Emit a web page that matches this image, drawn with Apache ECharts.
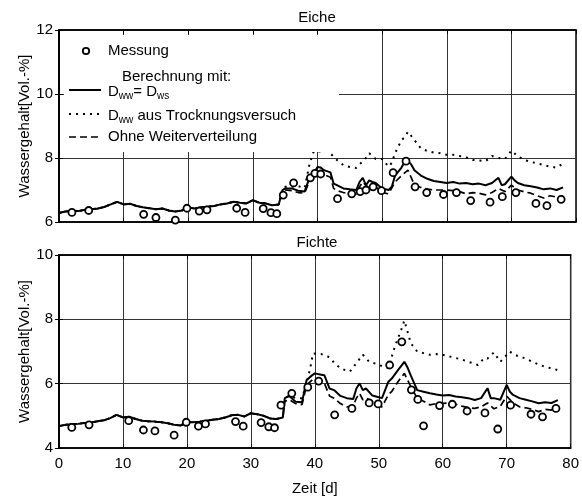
<!DOCTYPE html>
<html><head><meta charset="utf-8">
<script src="https://cdn.jsdelivr.net/npm/echarts@6/dist/echarts.min.js"></script>
<style>html,body{margin:0;padding:0;background:#fff}#c{width:582px;height:497px}</style>
</head><body><div id="c"></div><script>
// ---- data (days, Vol.-%) ----
const xTicks = [0,10,20,30,40,50,60,70,80];
const yTicksEiche = [6,8,10,12];
const yTicksFichte = [4,6,8,10];
const titles = ['Eiche','Fichte'];

// common part (all calculations coincide), days 0..34
const eicheCommon = [[0,6.28],[1,6.33],[2,6.35],[3,6.34],[4,6.38],[5,6.40],[6,6.42],[7,6.47],[8,6.55],[9,6.63],[10,6.55],[11,6.57],[12,6.50],[13,6.46],[14,6.43],[15,6.40],[16,6.42],[17,6.36],[18,6.33],[19,6.36],[20,6.45],[21,6.42],[22,6.46],[23,6.48],[24,6.50],[25,6.55],[26,6.58],[27,6.63],[28,6.60],[29,6.58],[30,6.68],[31,6.60],[32,6.58],[33,6.52],[34,6.55]];
const eicheSolidTail = [[34.6,7.00],[35,7.05],[36,7.05],[37,6.98],[38,6.95],[38.8,7.40],[39.5,7.55],[40,7.72],[40.5,7.70],[41,7.62],[42,7.55],[42.5,7.20],[43,7.15],[44,7.05],[45,7.02],[46,7.00],[46.5,7.25],[47,7.38],[47.5,7.15],[48,7.30],[48.5,7.25],[49,7.22],[50,7.05],[51,7.00],[51.5,7.10],[52,7.45],[53,7.70],[53.7,7.96],[54.5,7.80],[55,7.62],[56,7.45],[57,7.35],[58,7.28],[59,7.25],[60,7.22],[61,7.25],[62,7.20],[63,7.22],[64,7.18],[65,7.20],[66,7.15],[67,7.22],[68,7.38],[68.5,7.15],[69,7.18],[70,7.42],[70.5,7.30],[71,7.22],[72,7.15],[73,7.12],[74,7.08],[75,7.02],[76,7.05],[77,7.00],[78,7.08]];
const eicheDashedTail = [[34.6,6.95],[35,7.00],[36,6.98],[37,6.92],[38,6.90],[38.8,7.30],[39.5,7.45],[40,7.57],[41,7.48],[42,7.40],[42.5,7.05],[43,6.98],[44,6.92],[45,6.90],[46,6.88],[46.5,7.10],[47,7.25],[48,7.05],[49,7.10],[50,6.92],[51,6.88],[52,7.25],[53,7.45],[54,7.62],[55,7.16],[56,7.08],[57,7.03],[58,7.00],[60,7.00],[61,6.98],[62,6.95],[63,6.88],[64,6.92],[65,6.90],[66,6.85],[67,6.92],[68,7.05],[69,6.95],[70,7.15],[71,7.00],[72,6.94],[73,6.90],[74,6.82],[75,6.75],[76,6.82],[77,6.78],[78,6.82]];
const eicheDottedTail = [[34.6,7.05],[35,7.10],[36,7.10],[37,7.12],[38,7.06],[38.7,7.75],[39.3,8.15],[39.5,8.22],[40.5,8.20],[41.5,8.22],[42.5,8.05],[43,7.94],[44,7.78],[45,7.72],[46,7.69],[47,7.90],[47.5,8.00],[48,8.15],[49,7.97],[50,7.97],[51,7.73],[51.5,7.85],[52,8.15],[53,8.56],[53.5,8.65],[54,8.82],[55,8.56],[56,8.30],[57,8.22],[58,8.17],[59,8.15],[60,8.10],[61,8.10],[62,8.06],[63,8.02],[64,7.94],[65,7.92],[66,7.90],[67,8.06],[68,8.00],[69,7.97],[70,8.23],[71,8.05],[72,7.94],[73,7.88],[74,7.83],[75,7.78],[76,7.73],[77,7.70],[78,7.83]];
const eicheMess = [[2,6.30],[4.6,6.36],[13.1,6.24],[15,6.14],[18,6.06],[19.8,6.43],[21.7,6.34],[22.9,6.38],[27.5,6.43],[28.8,6.30],[31.6,6.42],[32.8,6.29],[33.7,6.26],[34.7,6.84],[36.3,7.22],[38.9,7.38],[39.6,7.52],[40.5,7.50],[43.1,6.73],[45.3,6.88],[46.6,6.95],[47.5,7.00],[48.6,7.10],[49.9,6.98],[51.7,7.54],[53.7,7.90],[55.1,7.10],[56.9,6.92],[59.5,6.86],[61.5,6.92],[63.7,6.67],[66.7,6.62],[68.6,6.79],[70.7,6.92],[73.8,6.58],[75.5,6.51],[77.7,6.71]];

const fichteCommon = [[0,4.68],[1,4.72],[2,4.74],[3,4.75],[4,4.78],[5,4.79],[6,4.83],[7,4.86],[8,4.93],[9,5.03],[10,4.95],[11,4.97],[12,4.90],[13,4.85],[14,4.83],[15,4.82],[16,4.80],[17,4.77],[18,4.72],[19,4.70],[20,4.80],[21,4.80],[22,4.82],[23,4.85],[24,4.88],[25,4.90],[26,4.95],[27,5.02],[28,5.03],[29,4.98],[30,5.08],[31,5.05],[32,5.00],[33,4.92],[34,4.90],[35,4.95]];
const fichteSolidTail = [[35.3,5.55],[36,5.62],[37,5.44],[38,5.42],[38.7,6.11],[39.5,6.25],[40,6.32],[41,6.28],[41.5,6.26],[42.3,5.85],[43,5.80],[44,5.62],[45,5.55],[46,5.52],[46.5,5.85],[47,6.01],[47.5,5.80],[48,5.85],[49,5.63],[50,5.58],[50.5,5.55],[51.5,6.06],[52,6.15],[53,6.42],[54,6.68],[54.5,6.50],[55,6.26],[56,5.80],[57,5.75],[58,5.70],[59,5.66],[60,5.63],[61,5.65],[62,5.60],[63,5.58],[64,5.55],[65,5.49],[66,5.55],[67,5.86],[67.5,5.55],[68,5.55],[69,5.50],[70,5.96],[70.5,5.75],[71,5.65],[72,5.55],[73,5.50],[74,5.45],[75,5.39],[76,5.42],[77,5.40],[78,5.49]];
const fichteDashedTail = [[35.3,5.45],[36,5.50],[37,5.38],[38,5.35],[38.7,5.95],[39.5,6.10],[40,6.17],[41,6.10],[41.5,6.01],[42.3,5.62],[43,5.55],[44,5.38],[45,5.28],[46,5.30],[46.5,5.55],[47,5.70],[47.5,5.50],[48,5.55],[49,5.45],[50,5.30],[50.5,5.28],[51.5,5.66],[52,5.75],[53,6.06],[54,6.32],[55,5.91],[56,5.55],[57,5.45],[58,5.34],[59,5.38],[60,5.39],[61,5.40],[62,5.36],[63,5.30],[64,5.25],[65,5.23],[66,5.28],[67,5.40],[68,5.22],[69,5.30],[70,5.61],[71,5.40],[72,5.28],[73,5.25],[74,5.20],[75,5.13],[76,5.20],[77,5.18],[78,5.28]];
const fichteDottedTail = [[35.3,5.55],[36,5.62],[37,5.55],[38,5.55],[38.7,6.00],[39.3,6.50],[39.7,6.94],[41,6.92],[42,6.85],[42.5,6.78],[43,6.65],[44,6.48],[45,6.40],[45.5,6.38],[46.5,6.64],[47.5,6.90],[48.5,6.68],[49.5,6.62],[50,6.58],[51.5,6.48],[52.5,7.15],[53.5,7.67],[54,7.96],[55,7.26],[56,7.00],[57,6.95],[58,6.90],[59,6.92],[60,6.90],[61,6.85],[62,6.80],[63,6.75],[64,6.68],[65,6.62],[65.5,6.58],[66.5,6.80],[67,6.78],[68,6.97],[69,6.68],[70.5,7.00],[71,6.92],[72,6.84],[73,6.78],[74,6.68],[75,6.60],[76,6.52],[77,6.48],[78,6.42]];
const fichteMess = [[2,4.64],[4.7,4.72],[10.9,4.85],[13.2,4.56],[15,4.53],[18,4.40],[19.9,4.80],[21.8,4.68],[22.9,4.75],[27.6,4.82],[28.8,4.68],[31.6,4.79],[32.8,4.66],[33.7,4.63],[34.7,5.33],[36.4,5.70],[38.9,5.89],[40.6,6.08],[43.1,5.03],[45.8,5.23],[48.5,5.40],[49.9,5.37],[51.7,6.58],[53.6,7.30],[55.1,5.81],[56.1,5.51],[57,4.69],[59.5,5.32],[61.5,5.36],[63.8,5.15],[66.6,5.09],[68.6,4.59],[70.6,5.33],[73.8,5.05],[75.6,4.97],[77.7,5.23]];

const FONT = "'Liberation Sans', Arial, sans-serif";
const chart = echarts.init(document.getElementById('c'), null, {renderer:'canvas'});

function xAx(gi, showLabel) {
  return [{
    gridIndex: gi, type:'value', min: xTicks[0], max: xTicks[xTicks.length-1], interval: 10,
    axisLine:{show:true, lineStyle:{color:'#000', width:1.5}},
    axisTick:{show:true, inside:true, length:4, lineStyle:{color:'#000'}},
    axisLabel:{show:showLabel, color:'#000', fontSize:15, fontFamily:FONT, margin:8},
    splitLine:{show:true, lineStyle:{color:'#333', width:1}},
    name: showLabel ? 'Zeit [d]' : '', nameLocation:'middle', nameGap:33, nameMoveOverlap:false,
    nameTextStyle:{color:'#000', fontSize:15, fontFamily:FONT}
  },{
    gridIndex: gi, type:'value', position:'top', min: xTicks[0], max: xTicks[xTicks.length-1], interval: 10,
    axisLine:{show:true, lineStyle:{color:'#000', width:1.5}},
    axisTick:{show:true, inside:true, length:4, lineStyle:{color:'#000'}},
    axisLabel:{show:false}, splitLine:{show:false}
  }];
}
function yAx(gi, ticks) {
  return [{
    gridIndex: gi, type:'value', min: ticks[0], max: ticks[ticks.length-1], interval: 2,
    axisLine:{show:true, lineStyle:{color:'#000', width:1.5}},
    axisTick:{show:true, inside:true, length:4, lineStyle:{color:'#000'}},
    axisLabel:{color:'#000', fontSize:15, fontFamily:FONT, margin:6},
    splitLine:{show:true, lineStyle:{color:'#333', width:1}},
    name:'Wassergehalt[Vol.-%]', nameLocation:'middle', nameGap:27, nameMoveOverlap:false,
    nameTextStyle:{color:'#000', fontSize:15, fontFamily:FONT}
  },{
    gridIndex: gi, type:'value', position:'right', min: ticks[0], max: ticks[ticks.length-1], interval: 2,
    axisLine:{show:true, lineStyle:{color:'#000', width:1.5}},
    axisTick:{show:true, inside:true, length:4, lineStyle:{color:'#000'}},
    axisLabel:{show:false}, splitLine:{show:false}
  }];
}

function seriesFor(gi, mess, common, solidT, dottedT, dashedT) {
  const xi = gi*2, yi = gi*2;
  const base = {type:'line', xAxisIndex:xi, yAxisIndex:yi, showSymbol:false, symbol:'none', animation:false, silent:true};
  return [
    Object.assign({}, base, {name:'dotted', data: common.concat(dottedT), lineStyle:{color:'#000', width:2, type:[2,5]}, z:2}),
    Object.assign({}, base, {name:'dashed', data: common.concat(dashedT), lineStyle:{color:'#000', width:1.7, type:[7,4]}, z:3}),
    Object.assign({}, base, {name:'solid', data: common.concat(solidT), lineStyle:{color:'#000', width:2}, z:4}),
    {type:'scatter', xAxisIndex:xi, yAxisIndex:yi, data: mess, symbol:'circle', symbolSize:7,
     itemStyle:{color:'#fff', borderColor:'#000', borderWidth:1.8, opacity:1}, z:5, animation:false, silent:true}
  ];
}

const legendX0 = 69, legendX1 = 101, textX = 108;
const sub = {fontSize:10, fontFamily:FONT, color:'#000', padding:[9,0,0,0]};
const nrm = {fontSize:15, fontFamily:FONT, color:'#000'};

const option = {
  backgroundColor:'#fff',
  animation:false,
  grid:[
    {left:59, top:30, width:517, height:192, show:true, borderColor:'#000', borderWidth:1.5, backgroundColor:'transparent'},
    {left:59, top:255, width:517, height:193, show:true, borderColor:'#000', borderWidth:1.5, backgroundColor:'transparent'}
  ],
  xAxis: xAx(0,false).concat(xAx(1,true)),
  yAxis: yAx(0,yTicksEiche).concat(yAx(1,yTicksFichte)),
  series: seriesFor(0, eicheMess, eicheCommon, eicheSolidTail, eicheDottedTail, eicheDashedTail)
    .concat(seriesFor(1, fichteMess, fichteCommon, fichteSolidTail, fichteDottedTail, fichteDashedTail)),
  graphic:[
    {type:'text', x:317, y:18, z:120, style:{text:titles[0], textAlign:'center', textVerticalAlign:'middle', font:'15px '+FONT, fill:'#000'}},
    {type:'text', x:317, y:243, z:120, style:{text:titles[1], textAlign:'center', textVerticalAlign:'middle', font:'15px '+FONT, fill:'#000'}},
    {type:'rect', z:100, shape:{x:64, y:35, width:275, height:117}, style:{fill:'#fff'}},
    {type:'circle', z:101, shape:{cx:86, cy:51, r:3.2}, style:{fill:'#fff', stroke:'#000', lineWidth:1.8}},
    {type:'text', z:101, x:textX, y:51, style:{text:'Messung', textVerticalAlign:'middle', font:'15px '+FONT, fill:'#000'}},
    {type:'text', z:101, x:122, y:77, style:{text:'Berechnung mit:', textVerticalAlign:'middle', font:'15px '+FONT, fill:'#000'}},
    {type:'line', z:101, shape:{x1:legendX0, y1:90, x2:legendX1, y2:90}, style:{stroke:'#000', lineWidth:2}},
    {type:'line', z:101, shape:{x1:legendX0, y1:114, x2:legendX1, y2:114}, style:{stroke:'#000', lineWidth:2, lineDash:[2,5]}},
    {type:'line', z:101, shape:{x1:legendX0, y1:137, x2:legendX1, y2:137}, style:{stroke:'#000', lineWidth:1.7, lineDash:[7,4]}},
    {type:'text', z:101, x:textX, y:82, style:{text:'{n|D}{s|ww}{n|= D}{s|ws}', rich:{n:nrm, s:sub}, fill:'#000'}},
    {type:'text', z:101, x:textX, y:106, style:{text:'{n|D}{s|ww}{n| aus Trocknungsversuch}', rich:{n:nrm, s:sub}, fill:'#000'}},
    {type:'text', z:101, x:textX, y:137, style:{text:'Ohne Weiterverteilung', textVerticalAlign:'middle', font:'15px '+FONT, fill:'#000'}}
  ]
};
chart.setOption(option);
</script></body></html>
